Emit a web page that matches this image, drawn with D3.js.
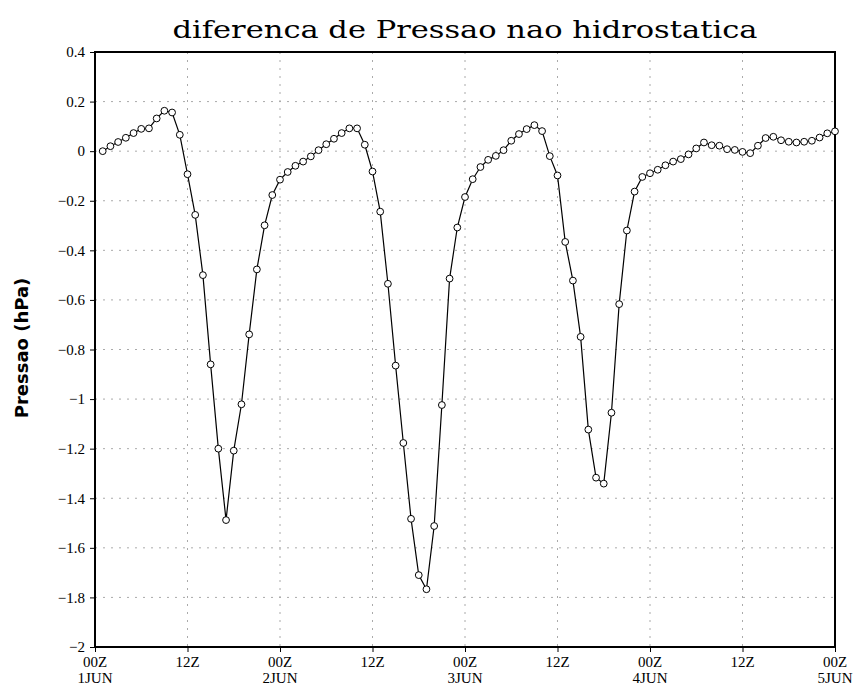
<!DOCTYPE html>
<html>
<head>
<meta charset="utf-8">
<script src="https://cdn.jsdelivr.net/npm/d3@7"></script>
<style>
body{margin:0;background:#fff;}
</style>
</head>
<body>
<script>
// hourly values, 01Z 1JUN .. 00Z 5JUN
var hours = d3.range(1, 97);
var pressao = [
	0.00, 0.02, 0.037, 0.054, 0.073, 0.09, 0.092, 0.132, 0.163, 0.156, 0.066, -0.093,
	-0.257, -0.50, -0.86, -1.20, -1.488, -1.208, -1.021, -0.739, -0.477, -0.299, -0.177, -0.115,
	-0.084, -0.059, -0.042, -0.021, 0.004, 0.028, 0.05, 0.073, 0.092, 0.092, 0.026, -0.082,
	-0.244, -0.535, -0.865, -1.177, -1.483, -1.71, -1.767, -1.512, -1.024, -0.514, -0.308, -0.185,
	-0.113, -0.064, -0.035, -0.019, 0.004, 0.042, 0.069, 0.089, 0.105, 0.081, -0.02, -0.098,
	-0.366, -0.522, -0.749, -1.123, -1.317, -1.341, -1.055, -0.617, -0.32, -0.163, -0.104, -0.089,
	-0.075, -0.057, -0.042, -0.032, -0.013, 0.011, 0.035, 0.024, 0.022, 0.008, 0.005, -0.003,
	-0.008, 0.022, 0.053, 0.058, 0.044, 0.038, 0.035, 0.038, 0.042, 0.055, 0.072, 0.08
];
var xTicks = [0, 12, 24, 36, 48, 60, 72, 84, 96];
var xTickHour = ["00Z", "12Z", "00Z", "12Z", "00Z", "12Z", "00Z", "12Z", "00Z"];
var xTickDay = ["1JUN", "", "2JUN", "", "3JUN", "", "4JUN", "", "5JUN"];
var yTicks = [0.4, 0.2, 0, -0.2, -0.4, -0.6, -0.8, -1, -1.2, -1.4, -1.6, -1.8, -2];

var w = 860, h = 687;
var pLeft = 95, pRight = 835, pTop = 52, pBottom = 647;

var svg = d3.select("body").append("svg")
	.attr("width", w)
	.attr("height", h);

var x = d3.scaleLinear().domain([0, 96]).range([pLeft, pRight]);
var y = d3.scaleLinear().domain([-2, 0.4]).range([pBottom, pTop]);

// grid
svg.append("g").selectAll("line")
	.data(yTicks.slice(1, -1))
	.enter().append("line")
	.attr("x1", pLeft).attr("x2", pRight)
	.attr("y1", function(d){ return y(d); })
	.attr("y2", function(d){ return y(d); })
	.attr("stroke", "#aaa")
	.attr("stroke-dasharray", "2,6");

svg.append("g").selectAll("line")
	.data(xTicks.slice(1, -1))
	.enter().append("line")
	.attr("y1", pTop).attr("y2", pBottom)
	.attr("x1", function(d){ return x(d); })
	.attr("x2", function(d){ return x(d); })
	.attr("stroke", "#aaa")
	.attr("stroke-dasharray", "2,6");

// axes
var yAxis = d3.axisLeft(y).tickValues(yTicks).tickSize(5).tickPadding(5)
	.tickFormat(function(d){ return d === 0 ? "0" : String(d).replace("-", "\u2212"); });
var gy = svg.append("g").attr("transform", "translate(" + pLeft + ",0)").call(yAxis);
gy.select(".domain").remove();
gy.selectAll("text")
	.attr("font-family", "Liberation Serif")
	.attr("font-size", 15)
	.attr("fill", "#000");

var xAxis = d3.axisBottom(x).tickValues(xTicks).tickSize(5).tickFormat("");
var gx = svg.append("g").attr("transform", "translate(0," + pBottom + ")").call(xAxis);
gx.select(".domain").remove();

var xl = svg.append("g").selectAll("text")
	.data(xTicks)
	.enter().append("text")
	.attr("x", function(d){ return x(d); })
	.attr("text-anchor", "middle")
	.attr("font-family", "Liberation Serif")
	.attr("font-size", 15);
xl.append("tspan")
	.attr("x", function(d){ return x(d); })
	.attr("y", 667)
	.text(function(d, i){ return xTickHour[i]; });
xl.append("tspan")
	.attr("x", function(d){ return x(d); })
	.attr("y", 683)
	.text(function(d, i){ return xTickDay[i]; });

// frame
svg.append("rect")
	.attr("x", pLeft).attr("y", pTop)
	.attr("width", pRight - pLeft).attr("height", pBottom - pTop)
	.attr("fill", "none")
	.attr("stroke", "#000")
	.attr("stroke-width", 2);

// series
var pts = hours.map(function(hh, i){ return {h: hh, v: pressao[i]}; });
var line = d3.line()
	.x(function(d){ return x(d.h); })
	.y(function(d){ return y(d.v); });

svg.append("path")
	.datum(pts)
	.attr("d", line)
	.attr("fill", "none")
	.attr("stroke", "#000")
	.attr("stroke-width", 1.2);

svg.append("g").selectAll("circle")
	.data(pts)
	.enter().append("circle")
	.attr("cx", function(d){ return x(d.h); })
	.attr("cy", function(d){ return y(d.v); })
	.attr("r", 3.4)
	.attr("fill", "#fff")
	.attr("stroke", "#000")
	.attr("stroke-width", 1);

// titles
svg.append("text")
	.attr("x", 465).attr("y", 38)
	.attr("text-anchor", "middle")
	.attr("font-family", "DejaVu Serif")
	.attr("font-size", 25)
	.attr("textLength", 585)
	.attr("lengthAdjust", "spacingAndGlyphs")
	.text("diferenca de Pressao nao hidrostatica");

svg.append("text")
	.attr("transform", "translate(28,348) rotate(-90)")
	.attr("text-anchor", "middle")
	.attr("font-family", "DejaVu Sans")
	.attr("font-weight", "bold")
	.attr("font-size", 18)
	.text("Pressao (hPa)");
</script>
</body>
</html>
